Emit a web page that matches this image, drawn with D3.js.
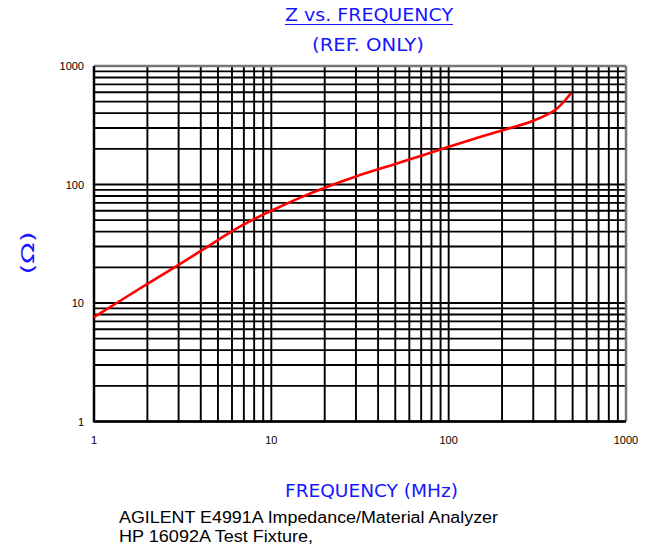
<!DOCTYPE html>
<html lang="en">
<head>
  <meta charset="UTF-8" />
  <title>Z vs. Frequency</title>
  <script src="https://d3js.org/d3.v7.min.js"></script>
  <style>
    body { margin: 0; background: #fff; }
    svg { display: block; }
    .tick-label { font-family: 'Liberation Sans', Arial, sans-serif; font-size: 11px; fill: #000; }
    .blue { font-family: 'DejaVu Sans Condensed', 'DejaVu Sans', sans-serif; fill: #1515ff; }
    .note { font-family: 'Liberation Sans', Arial, sans-serif; font-size: 16px; fill: #000; }
  </style>
</head>
<body>
  <svg width="651" height="547"></svg>
  <script>
    // impedance curve
    const freqMHz = [1, 2, 3, 4, 5, 7, 10, 15, 20, 30, 50, 70, 100, 150, 200, 300, 400, 490];
    const zOhm    = [7.6, 14.5, 21, 27.5, 34, 46, 60, 79, 94, 117, 149, 175, 208, 252, 286, 345, 427, 590];
    const xTicks = [1, 10, 100, 1000];
    const yTicks = [1, 10, 100, 1000];

    const plotL = 94, plotR = 626, plotT = 66, plotB = 421.5;
    const svg = d3.select("svg");

    const x = d3.scaleLog().domain([1, 1000]).range([plotL, plotR]);
    const y = d3.scaleLog().domain([1, 1000]).range([plotB, plotT]);

    // minor + major grid: 1..9 of each decade
    const gridVals = [];
    [1, 10, 100].forEach(d => { for (let k = 1; k <= 9; k++) gridVals.push(d * k); });

    const grid = svg.append("g");
    grid.selectAll("line.v").data(gridVals).enter().append("line")
      .attr("x1", d => x(d)).attr("x2", d => x(d))
      .attr("y1", plotT).attr("y2", plotB)
      .attr("stroke", "#000").attr("stroke-width", 1.9);
    grid.selectAll("line.h").data(gridVals).enter().append("line")
      .attr("y1", d => y(d)).attr("y2", d => y(d))
      .attr("x1", plotL).attr("x2", plotR)
      .attr("stroke", "#000").attr("stroke-width", 1.9);

    // frame: gray top/right, black left/bottom
    svg.append("line").attr("x1", plotL).attr("x2", plotR).attr("y1", plotT).attr("y2", plotT)
      .attr("stroke", "#777").attr("stroke-width", 2.5);
    svg.append("line").attr("x1", plotR).attr("x2", plotR).attr("y1", plotT).attr("y2", plotB)
      .attr("stroke", "#777").attr("stroke-width", 2.5);
    svg.append("line").attr("x1", plotL).attr("x2", plotL).attr("y1", plotT).attr("y2", plotB + 1)
      .attr("stroke", "#000").attr("stroke-width", 2.5);
    svg.append("line").attr("x1", plotL).attr("x2", plotR).attr("y1", plotB).attr("y2", plotB)
      .attr("stroke", "#000").attr("stroke-width", 2.5);

    // tick labels
    svg.selectAll("text.yt").data(yTicks).enter().append("text")
      .attr("class", "tick-label")
      .attr("x", plotL - 10).attr("y", d => y(d) + 4)
      .attr("text-anchor", "end")
      .text(d => d);
    svg.selectAll("text.xt").data(xTicks).enter().append("text")
      .attr("class", "tick-label")
      .attr("x", d => x(d)).attr("y", plotB + 22)
      .attr("text-anchor", "middle")
      .text(d => d);

    // curve
    const pts = freqMHz.map((f, i) => [f, zOhm[i]]);
    const line = d3.line().x(d => x(d[0])).y(d => y(d[1])).curve(d3.curveCatmullRom.alpha(0.5));
    svg.append("path").attr("d", line(pts))
      .attr("fill", "none").attr("stroke", "#ff0000").attr("stroke-width", 2.6);

    // titles
    svg.append("text").attr("class", "blue")
      .attr("x", 369).attr("y", 21).attr("text-anchor", "middle")
      .attr("font-size", 18).attr("textLength", 168).attr("lengthAdjust", "spacingAndGlyphs")
      .text("Z vs. FREQUENCY");
    svg.append("line").attr("x1", 285).attr("x2", 453).attr("y1", 24.5).attr("y2", 24.5)
      .attr("stroke", "#1515ff").attr("stroke-width", 1.2);
    svg.append("text").attr("class", "blue")
      .attr("x", 368).attr("y", 51).attr("text-anchor", "middle")
      .attr("font-size", 18).attr("textLength", 112).attr("lengthAdjust", "spacingAndGlyphs")
      .text("(REF. ONLY)");
    svg.append("text").attr("class", "blue")
      .attr("x", 371.5).attr("y", 497).attr("text-anchor", "middle")
      .attr("font-size", 18).attr("textLength", 173).attr("lengthAdjust", "spacingAndGlyphs")
      .text("FREQUENCY (MHz)");
    svg.append("text").attr("class", "blue")
      .attr("transform", "translate(34,253) rotate(-90)")
      .attr("text-anchor", "middle")
      .attr("font-size", 18).attr("textLength", 43).attr("lengthAdjust", "spacingAndGlyphs")
      .text("(Ω)");

    // fixture notes
    svg.append("text").attr("class", "note").attr("x", 119).attr("y", 523)
      .attr("textLength", 379).attr("lengthAdjust", "spacingAndGlyphs")
      .text("AGILENT E4991A Impedance/Material Analyzer");
    svg.append("text").attr("class", "note").attr("x", 119).attr("y", 542)
      .attr("textLength", 194).attr("lengthAdjust", "spacingAndGlyphs")
      .text("HP 16092A Test Fixture,");
  </script>
</body>
</html>
